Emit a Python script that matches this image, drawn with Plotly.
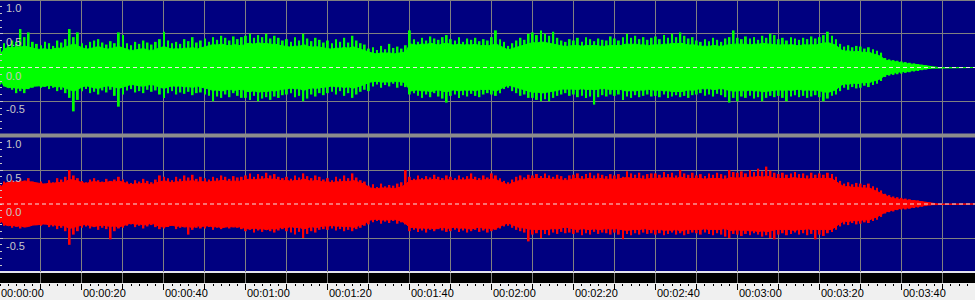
import plotly.graph_objects as go

# ---------------- data (per-second envelope values) ----------------
# Left channel (green, top panel)
left_peak_top = [
    0.30,0.36,0.33,0.40,0.38,0.57,0.45,0.52,0.38,0.35,
    0.33,0.38,0.36,0.32,0.40,0.37,0.42,0.57,0.45,0.52,
    0.36,0.33,0.38,0.40,0.42,0.37,0.34,0.39,0.36,0.52,
    0.48,0.36,0.33,0.38,0.35,0.40,0.37,0.34,0.38,0.42,
    0.53,0.40,0.36,0.38,0.35,0.42,0.39,0.45,0.37,0.40,
    0.43,0.38,0.45,0.41,0.47,0.44,0.40,0.46,0.42,0.45,
    0.47,0.50,0.44,0.48,0.45,0.50,0.43,0.47,0.44,0.40,
    0.42,0.38,0.45,0.40,0.50,0.43,0.39,0.44,0.41,0.37,
    0.40,0.36,0.42,0.38,0.44,0.37,0.47,0.40,0.36,0.34,
    0.28,0.30,0.26,0.32,0.27,0.35,0.29,0.31,0.28,0.33,
    0.55,0.42,0.38,0.44,0.40,0.46,0.43,0.41,0.45,0.48,
    0.42,0.40,0.45,0.38,0.43,0.41,0.44,0.39,0.42,0.40,
    0.45,0.55,0.42,0.38,0.32,0.36,0.40,0.44,0.41,0.50,
    0.52,0.48,0.55,0.50,0.47,0.53,0.44,0.40,0.38,0.42,
    0.40,0.44,0.38,0.45,0.42,0.39,0.43,0.41,0.40,0.46,
    0.43,0.40,0.45,0.50,0.44,0.47,0.42,0.45,0.41,0.44,
    0.46,0.42,0.48,0.44,0.50,0.45,0.52,0.47,0.43,0.45,
    0.40,0.38,0.42,0.39,0.44,0.41,0.38,0.43,0.45,0.55,
    0.44,0.42,0.46,0.43,0.45,0.41,0.47,0.44,0.50,0.48,
    0.42,0.44,0.40,0.45,0.43,0.41,0.44,0.42,0.46,0.43,
    0.45,0.48,0.53,0.47,0.42,0.35,0.31,0.33,0.30,0.32,
    0.31,0.28,0.30,0.27,0.25,0.22,0.14,0.12,0.11,0.10,
    0.09,0.08,0.07,0.06,0.05,0.04,0.03,0.02,
    0,0,0,0,0,0,0,0,0,0,0,
]
left_peak_bottom = [
    0.25,0.28,0.26,0.33,0.38,0.35,0.38,0.32,0.30,0.28,
    0.30,0.28,0.32,0.30,0.35,0.33,0.38,0.45,0.65,0.48,
    0.35,0.32,0.38,0.36,0.40,0.34,0.37,0.33,0.42,0.58,
    0.40,0.34,0.32,0.37,0.35,0.38,0.33,0.36,0.34,0.40,
    0.45,0.38,0.35,0.40,0.37,0.39,0.36,0.41,0.38,0.37,
    0.40,0.42,0.50,0.43,0.45,0.40,0.44,0.38,0.42,0.45,
    0.45,0.48,0.42,0.50,0.46,0.44,0.48,0.43,0.45,0.41,
    0.40,0.38,0.44,0.42,0.50,0.46,0.40,0.43,0.38,0.41,
    0.38,0.36,0.40,0.35,0.42,0.38,0.45,0.40,0.36,0.33,
    0.35,0.28,0.25,0.30,0.26,0.28,0.24,0.30,0.27,0.29,
    0.40,0.38,0.42,0.45,0.40,0.44,0.38,0.43,0.46,0.52,
    0.42,0.40,0.45,0.41,0.43,0.39,0.42,0.44,0.40,0.38,
    0.40,0.42,0.38,0.32,0.30,0.35,0.38,0.42,0.40,0.45,
    0.45,0.48,0.50,0.47,0.50,0.45,0.42,0.40,0.38,0.42,
    0.40,0.44,0.42,0.45,0.43,0.55,0.44,0.41,0.43,0.40,
    0.42,0.40,0.48,0.43,0.45,0.41,0.44,0.42,0.40,0.43,
    0.42,0.44,0.40,0.45,0.43,0.41,0.44,0.42,0.45,0.41,
    0.40,0.38,0.42,0.40,0.43,0.39,0.41,0.44,0.52,0.45,
    0.50,0.43,0.45,0.42,0.46,0.44,0.50,0.45,0.42,0.44,
    0.42,0.45,0.50,0.43,0.41,0.44,0.42,0.45,0.43,0.41,
    0.44,0.50,0.46,0.42,0.40,0.35,0.30,0.33,0.29,0.31,
    0.30,0.27,0.29,0.26,0.24,0.20,0.14,0.12,0.11,0.10,
    0.09,0.08,0.07,0.06,0.05,0.04,0.03,0.02,
    0,0,0,0,0,0,0,0,0,0,0,
]
left_core = [
    0.20,0.27,0.30,0.29,0.31,0.30,0.32,0.30,0.28,0.27,
    0.27,0.28,0.26,0.27,0.29,0.28,0.30,0.33,0.35,0.32,
    0.29,0.27,0.28,0.30,0.31,0.29,0.27,0.28,0.29,0.31,
    0.29,0.27,0.25,0.26,0.27,0.28,0.26,0.25,0.27,0.29,
    0.31,0.29,0.27,0.28,0.27,0.29,0.28,0.30,0.27,0.29,
    0.31,0.32,0.34,0.33,0.35,0.33,0.32,0.34,0.33,0.32,
    0.35,0.36,0.34,0.37,0.35,0.36,0.34,0.35,0.33,0.32,
    0.32,0.30,0.32,0.31,0.34,0.32,0.30,0.31,0.30,0.29,
    0.29,0.27,0.29,0.28,0.30,0.28,0.31,0.29,0.27,0.25,
    0.22,0.21,0.20,0.22,0.21,0.22,0.20,0.21,0.21,0.23,
    0.35,0.34,0.33,0.35,0.34,0.36,0.34,0.33,0.35,0.36,
    0.34,0.33,0.35,0.33,0.34,0.33,0.35,0.32,0.33,0.32,
    0.33,0.35,0.32,0.29,0.26,0.28,0.30,0.32,0.33,0.35,
    0.37,0.36,0.38,0.37,0.36,0.35,0.34,0.32,0.31,0.32,
    0.32,0.33,0.31,0.33,0.32,0.33,0.32,0.31,0.32,0.33,
    0.33,0.32,0.34,0.35,0.34,0.35,0.33,0.34,0.32,0.33,
    0.34,0.33,0.35,0.34,0.36,0.35,0.36,0.35,0.33,0.34,
    0.32,0.31,0.32,0.31,0.33,0.32,0.31,0.33,0.34,0.35,
    0.35,0.34,0.35,0.33,0.35,0.34,0.36,0.35,0.35,0.34,
    0.33,0.34,0.33,0.34,0.33,0.32,0.34,0.33,0.34,0.33,
    0.35,0.36,0.37,0.35,0.33,0.27,0.24,0.25,0.23,0.24,
    0.23,0.22,0.23,0.20,0.19,0.16,0.11,0.10,0.08,0.07,
    0.06,0.06,0.05,0.05,0.04,0.03,0.02,0.01,
    0,0,0,0,0,0,0,0,0,0,0,
]

# Right channel (red, bottom panel)
right_peak_top = [
    0.28,0.33,0.30,0.35,0.32,0.36,0.34,0.38,0.33,0.31,
    0.33,0.30,0.35,0.32,0.38,0.36,0.40,0.50,0.42,0.38,
    0.34,0.32,0.36,0.38,0.35,0.33,0.37,0.34,0.36,0.40,
    0.36,0.33,0.31,0.35,0.33,0.37,0.34,0.32,0.36,0.42,
    0.40,0.38,0.35,0.40,0.37,0.42,0.39,0.43,0.37,0.40,
    0.38,0.36,0.40,0.38,0.42,0.40,0.37,0.41,0.39,0.40,
    0.42,0.45,0.40,0.44,0.41,0.46,0.42,0.44,0.40,0.38,
    0.40,0.37,0.42,0.39,0.45,0.41,0.38,0.42,0.40,0.36,
    0.38,0.35,0.40,0.37,0.42,0.38,0.45,0.39,0.35,0.33,
    0.27,0.29,0.25,0.30,0.26,0.28,0.27,0.30,0.32,0.50,
    0.40,0.37,0.42,0.38,0.41,0.39,0.43,0.40,0.38,0.42,
    0.40,0.38,0.42,0.39,0.41,0.45,0.40,0.38,0.42,0.39,
    0.45,0.42,0.38,0.34,0.32,0.36,0.40,0.42,0.39,0.43,
    0.42,0.44,0.41,0.45,0.42,0.40,0.43,0.41,0.38,0.42,
    0.43,0.45,0.41,0.44,0.46,0.42,0.45,0.43,0.41,0.44,
    0.42,0.44,0.40,0.48,0.45,0.43,0.46,0.42,0.44,0.45,
    0.45,0.43,0.47,0.44,0.46,0.42,0.50,0.45,0.43,0.46,
    0.42,0.44,0.41,0.45,0.43,0.46,0.44,0.42,0.50,0.47,
    0.46,0.48,0.45,0.50,0.47,0.52,0.48,0.55,0.49,0.46,
    0.44,0.46,0.43,0.45,0.47,0.44,0.45,0.42,0.46,0.43,
    0.45,0.43,0.46,0.44,0.40,0.34,0.30,0.32,0.29,0.31,
    0.30,0.28,0.30,0.26,0.24,0.20,0.15,0.13,0.11,0.10,
    0.09,0.08,0.07,0.06,0.05,0.04,0.03,0.02,
    0,0,0,0,0,0,0,0,0,0,0,
]
right_peak_bottom = [
    0.28,0.32,0.30,0.35,0.33,0.36,0.34,0.32,0.30,0.31,
    0.32,0.30,0.34,0.33,0.37,0.35,0.40,0.60,0.45,0.40,
    0.35,0.33,0.36,0.34,0.38,0.35,0.37,0.52,0.40,0.36,
    0.35,0.32,0.30,0.34,0.32,0.36,0.33,0.31,0.34,0.37,
    0.36,0.34,0.32,0.37,0.35,0.33,0.45,0.38,0.35,0.36,
    0.36,0.34,0.38,0.35,0.37,0.34,0.36,0.33,0.35,0.37,
    0.40,0.38,0.42,0.39,0.41,0.38,0.40,0.42,0.39,0.37,
    0.40,0.42,0.45,0.41,0.50,0.44,0.40,0.42,0.38,0.37,
    0.38,0.36,0.39,0.37,0.40,0.38,0.40,0.37,0.35,0.32,
    0.30,0.27,0.25,0.29,0.26,0.28,0.25,0.29,0.27,0.30,
    0.40,0.38,0.41,0.39,0.42,0.38,0.40,0.37,0.39,0.41,
    0.40,0.38,0.41,0.39,0.42,0.40,0.38,0.41,0.39,0.42,
    0.40,0.38,0.36,0.33,0.32,0.35,0.38,0.40,0.42,0.55,
    0.45,0.43,0.50,0.44,0.46,0.42,0.44,0.41,0.43,0.42,
    0.44,0.42,0.46,0.43,0.45,0.41,0.44,0.42,0.43,0.45,
    0.42,0.45,0.52,0.44,0.46,0.43,0.45,0.42,0.44,0.43,
    0.45,0.43,0.46,0.44,0.42,0.45,0.43,0.46,0.44,0.42,
    0.43,0.45,0.42,0.44,0.46,0.43,0.45,0.48,0.50,0.44,
    0.45,0.47,0.44,0.46,0.43,0.45,0.48,0.46,0.50,0.52,
    0.45,0.43,0.46,0.44,0.42,0.45,0.43,0.46,0.44,0.52,
    0.45,0.47,0.43,0.41,0.38,0.33,0.30,0.31,0.28,0.30,
    0.29,0.27,0.28,0.25,0.23,0.19,0.14,0.12,0.11,0.09,
    0.08,0.08,0.07,0.06,0.05,0.04,0.03,0.02,
    0,0,0,0,0,0,0,0,0,0,0,
]
right_core = [
    0.24,0.30,0.32,0.31,0.33,0.32,0.34,0.33,0.31,0.30,
    0.30,0.29,0.31,0.30,0.32,0.31,0.33,0.36,0.35,0.33,
    0.31,0.30,0.32,0.33,0.32,0.31,0.32,0.33,0.32,0.34,
    0.32,0.30,0.28,0.30,0.29,0.31,0.30,0.28,0.31,0.33,
    0.34,0.33,0.31,0.33,0.32,0.34,0.33,0.35,0.32,0.33,
    0.33,0.32,0.34,0.33,0.35,0.34,0.33,0.34,0.33,0.34,
    0.36,0.37,0.35,0.37,0.36,0.38,0.36,0.37,0.35,0.34,
    0.35,0.33,0.35,0.34,0.37,0.35,0.33,0.35,0.34,0.32,
    0.33,0.31,0.33,0.32,0.34,0.32,0.35,0.33,0.31,0.29,
    0.24,0.23,0.22,0.24,0.23,0.24,0.22,0.24,0.25,0.29,
    0.35,0.34,0.36,0.35,0.36,0.35,0.37,0.35,0.34,0.36,
    0.35,0.34,0.36,0.35,0.36,0.37,0.35,0.34,0.36,0.35,
    0.37,0.36,0.33,0.30,0.28,0.31,0.33,0.35,0.35,0.37,
    0.37,0.38,0.37,0.38,0.37,0.36,0.37,0.35,0.34,0.36,
    0.37,0.38,0.36,0.37,0.38,0.36,0.38,0.37,0.36,0.37,
    0.36,0.37,0.38,0.39,0.38,0.37,0.38,0.36,0.37,0.38,
    0.38,0.37,0.39,0.38,0.39,0.37,0.40,0.38,0.37,0.38,
    0.37,0.38,0.36,0.38,0.37,0.38,0.37,0.36,0.39,0.38,
    0.38,0.39,0.38,0.40,0.39,0.41,0.39,0.41,0.39,0.38,
    0.37,0.38,0.37,0.38,0.39,0.37,0.38,0.36,0.38,0.37,
    0.38,0.37,0.38,0.37,0.33,0.28,0.25,0.26,0.24,0.25,
    0.24,0.23,0.24,0.21,0.19,0.16,0.12,0.10,0.08,0.07,
    0.06,0.06,0.05,0.05,0.04,0.03,0.02,0.01,
    0,0,0,0,0,0,0,0,0,0,0,
]

seconds = list(range(len(left_core)))

amp_tick_values = [1.0, 0.5, 0.0, -0.5]
amp_tick_labels = ["1.0", "0.5", "0.0", "-0.5"]
time_tick_seconds = [0, 20, 40, 60, 80, 100, 120, 140, 160, 180, 200, 220]
time_tick_labels = ["00:00:00", "00:00:20", "00:00:40", "00:01:00", "00:01:20", "00:01:40",
                    "00:02:00", "00:02:20", "00:02:40", "00:03:00", "00:03:20", "00:03:40"]
grid_seconds = list(range(10, 240, 10))

# ---------------- style ----------------
W, H = 975, 300
X_MAX = 237.9
NAVY = "#000080"
GRID = "#808080"
LABEL = "#c8c8c8"
FONT = "Liberation Sans"


def py(px):
    return 1 - px / H


fig = go.Figure()


def add_channel(core, top, bottom, color, xa, ya):
    fig.add_trace(go.Scatter(
        x=seconds + seconds[::-1],
        y=core + [-v for v in core[::-1]],
        fill="toself", fillcolor=color, mode="lines",
        line=dict(color=color, width=1),
        xaxis=xa, yaxis=ya, hoverinfo="skip"))
    fig.add_trace(go.Bar(
        x=seconds, y=[a + b for a, b in zip(top, bottom)], base=[-b for b in bottom],
        width=0.45, marker=dict(color=color, line=dict(width=0)),
        xaxis=xa, yaxis=ya, hoverinfo="skip"))


add_channel(left_core, left_peak_top, left_peak_bottom, "#00ff00", "x", "y")
add_channel(right_core, right_peak_top, right_peak_bottom, "#ff0000", "x2", "y2")
# invisible trace so the ruler axis is drawn
fig.add_trace(go.Scatter(x=[0], y=[0], mode="markers", marker=dict(opacity=0),
                         xaxis="x3", yaxis="y3", hoverinfo="skip"))

xcommon = dict(range=[0, X_MAX], showgrid=True, gridcolor=GRID, gridwidth=1,
               tickmode="array", tickvals=grid_seconds, showticklabels=False,
               zeroline=False, showline=False, fixedrange=True)
ycommon = dict(range=[-1, 1], showgrid=True, gridcolor=GRID, gridwidth=1,
               tickmode="array", tickvals=[1.0, 0.5, -0.5], showticklabels=False,
               ticks="inside", ticklen=3, tickcolor=LABEL,
               minor=dict(tickmode="linear", tick0=0, dtick=0.1, ticks="inside",
                          ticklen=2, tickcolor=LABEL, showgrid=False),
               zeroline=False, showline=False, fixedrange=True)

fig.update_layout(
    width=W, height=H, autosize=False,
    margin=dict(l=0, r=0, t=0, b=0, pad=0),
    paper_bgcolor="#f0f0f0", plot_bgcolor="rgba(0,0,0,0)",
    showlegend=False, barmode="overlay",
    xaxis=dict(**xcommon, anchor="y", domain=[0, 1]),
    yaxis=dict(**ycommon, anchor="x", domain=[py(135), 1]),
    xaxis2=dict(**xcommon, anchor="y2", domain=[0, 1]),
    yaxis2=dict(**ycommon, anchor="x2", domain=[py(272), py(136)]),
    xaxis3=dict(range=[0, X_MAX], anchor="y3", domain=[0, 1], side="bottom",
                showgrid=True, gridcolor=GRID, gridwidth=1,
                tickmode="array", tickvals=grid_seconds, showticklabels=False,
                ticks="outside", ticklen=6, tickwidth=1, tickcolor="#000000",
                minor=dict(tickmode="linear", tick0=0, dtick=2, ticks="outside",
                           ticklen=2, tickwidth=1, tickcolor="#000000", showgrid=False),
                zeroline=False, showline=False, fixedrange=True),
    yaxis3=dict(range=[0, 1], anchor="x3", domain=[py(283), py(273)],
                showgrid=False, showticklabels=False, zeroline=False, fixedrange=True),
)

shapes = [
    # navy wave area
    dict(type="rect", xref="paper", yref="paper", x0=0, x1=1, y0=py(271), y1=1,
         fillcolor=NAVY, line=dict(width=0), layer="below"),
    # light line under the wave area
    dict(type="rect", xref="paper", yref="paper", x0=0, x1=1, y0=py(273), y1=py(271),
         fillcolor="#e4e4ec", line=dict(width=0), layer="below"),
    # black band above the ruler
    dict(type="rect", xref="paper", yref="paper", x0=0, x1=1, y0=py(283), y1=py(273),
         fillcolor="#000000", line=dict(width=0), layer="below"),
    # top border line
    dict(type="rect", xref="paper", yref="paper", x0=0, x1=1, y0=py(1), y1=1,
         fillcolor=GRID, line=dict(width=0), layer="above"),
    # separator between channels
    dict(type="rect", xref="paper", yref="paper", x0=0, x1=1, y0=py(137.5), y1=py(133.5),
         fillcolor="#8c8c8c", line=dict(width=0), layer="above"),
]
for ya in ["y", "y2"]:
    shapes.append(dict(type="line", xref="paper", yref=ya, x0=0, x1=1, y0=0, y1=0,
                       line=dict(color="#f0e4e4", width=1, dash="4px,3px"), layer="above"))
fig.update_layout(shapes=shapes)

annotations = []
for ya in ["y", "y2"]:
    for v, t in zip(amp_tick_values, amp_tick_labels):
        annotations.append(dict(xref="paper", yref=ya, x=0, y=v, text=t, showarrow=False,
                                xanchor="left", yanchor="top", xshift=4, yshift=0,
                                font=dict(family=FONT, size=11, color=LABEL)))
for s, t in zip(time_tick_seconds, time_tick_labels):
    annotations.append(dict(xref="x3", yref="paper", x=s, y=py(293), text=t, showarrow=False,
                            xanchor="left", yanchor="middle", xshift=-1,
                            font=dict(family=FONT, size=11, color="#000000")))
fig.update_layout(annotations=annotations)

fig.write_html("out.html")
